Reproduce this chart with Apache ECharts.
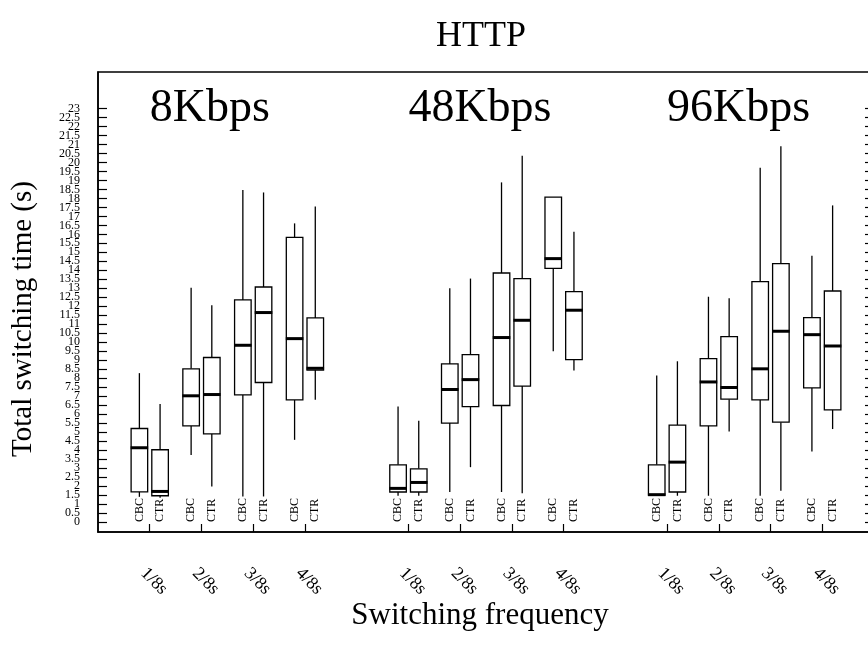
<!DOCTYPE html>
<html>
<head>
<meta charset="utf-8">
<script src="https://cdn.jsdelivr.net/npm/echarts@6/dist/echarts.min.js"></script>
<style>
html,body{margin:0;padding:0;background:#fff;}
#chart{width:868px;height:654px;}
</style>
</head>
<body>
<div id="chart"></div>
<script>
// ---- data ----
const categories = ['', '1/8s', '2/8s', '3/8s', '4/8s', '', '1/8s', '2/8s', '3/8s', '4/8s', '', '1/8s', '2/8s', '3/8s', '4/8s', ''];
const bitrates = ['8Kbps', '48Kbps', '96Kbps'];
const schemes = ['CBC', 'CTR'];
const yTicks = [0, 0.5, 1, 1.5, 2, 2.5, 3, 3.5, 4, 4.5, 5, 5.5, 6, 6.5, 7, 7.5, 8, 8.5, 9, 9.5, 10, 10.5, 11, 11.5, 12, 12.5, 13, 13.5, 14, 14.5, 15, 15.5, 16, 16.5, 17, 17.5, 18, 18.5, 19, 19.5, 20, 20.5, 21, 21.5, 22, 22.5, 23];
const yLabelsWhole = [0, 1, 2, 3, 4, 5, 6, 7, 8, 9, 10, 11, 12, 13, 14, 15, 16, 17, 18, 19, 20, 21, 22, 23];
const yLabelsHalf = [0.5, 1.5, 2.5, 3.5, 4.5, 5.5, 6.5, 7.5, 8.5, 9.5, 10.5, 11.5, 12.5, 13.5, 14.5, 15.5, 16.5, 17.5, 18.5, 19.5, 20.5, 21.5, 22.5];
// each entry: [min, q1, median, q3, max] for 1/8s, 2/8s, 3/8s, 4/8s
const cbc8 = [[1.4, 1.68, 4.13, 5.2, 8.28], [3.72, 5.35, 7.02, 8.52, 13.03], [1.42, 7.07, 9.83, 12.35, 18.46], [4.57, 6.79, 10.2, 15.83, 16.61]];
const ctr8 = [[1.35, 1.46, 1.7, 4.02, 6.57], [1.98, 4.9, 7.09, 9.15, 12.05], [1.42, 7.76, 11.65, 13.07, 18.33], [6.8, 8.45, 8.55, 11.35, 17.55]];
const cbc48 = [[1.46, 1.67, 1.87, 3.18, 6.42], [1.67, 5.5, 7.37, 8.79, 13.0], [1.67, 6.48, 10.26, 13.85, 18.89], [9.5, 14.11, 14.65, 18.07, 18.07]];
const ctr48 = [[1.46, 1.67, 2.2, 2.96, 5.63], [3.05, 6.42, 7.92, 9.31, 13.54], [1.6, 7.56, 11.22, 13.54, 20.37], [8.42, 9.03, 11.78, 12.81, 16.15]];
const cbc96 = [[1.45, 1.5, 1.52, 3.18, 8.15], [1.46, 5.35, 7.79, 9.09, 12.53], [1.46, 6.79, 8.52, 13.37, 19.7], [3.92, 7.46, 10.42, 11.37, 14.81]];
const ctr96 = [[1.46, 1.67, 3.33, 5.39, 8.94], [5.03, 6.83, 7.48, 10.31, 12.44], [1.74, 5.55, 10.61, 14.37, 20.9], [5.17, 6.24, 9.79, 12.85, 17.61]];
const panelY = 23;

// ---- build ----
const groups = [[cbc8, ctr8], [cbc48, ctr48], [cbc96, ctr96]];
const boxData = [];
const boxLabels = [];
groups.forEach(function (pair, g) {
  for (let k = 0; k < 4; k++) {
    pair.forEach(function (arr, s) {
      const v = arr[k];
      boxData.push([1 + g * 5 + k, s === 0 ? -1 : 1, v[0], v[1], v[2], v[3], v[4]]);
      boxLabels.push(schemes[s]);
    });
  }
});
const panelData = bitrates.map(function (b, g) { return [1 + g * 5, panelY]; });

const FONT = '"Liberation Serif", "Times New Roman", serif';
const chart = echarts.init(document.getElementById('chart'), null, {renderer: 'canvas'});

const yMin = -0.556, yMax = 25.03;
const tickStyle = {show: true, inside: true, length: 9, customValues: yTicks, lineStyle: {color: '#000', width: 1.2}};
const yLabelStyle = {margin: 18, fontSize: 12, fontFamily: FONT, color: '#000', hideOverlap: false};

chart.setOption({
  animation: false,
  backgroundColor: '#fff',
  graphic: [{
    type: 'text', x: 481, y: 37,
    style: {text: 'HTTP', textAlign: 'center', textVerticalAlign: 'middle', font: '36px ' + FONT, fill: '#000'}
  }],
  grid: {left: 98, top: 72, width: 776, height: 460, show: true, borderColor: '#000', borderWidth: 1.5, containLabel: false, outerBoundsMode: 'none'},
  xAxis: {
    type: 'category', data: categories, boundaryGap: false,
    axisLine: {show: true, onZero: false, lineStyle: {color: '#000', width: 1.5}},
    axisTick: {show: true, inside: true, length: 8, interval: function (i) { return categories[i] !== ''; }, lineStyle: {color: '#000', width: 1.2}},
    axisLabel: {interval: 0, rotate: -45, margin: 45, align: 'center', verticalAlign: 'middle', padding: [0, 0, 0, 12], fontSize: 18, fontFamily: FONT, color: '#000'},
    splitLine: {show: false},
    name: 'Switching frequency', nameLocation: 'middle', nameGap: 68, nameMoveOverlap: false,
    nameTextStyle: {fontSize: 31, fontFamily: FONT, color: '#000', padding: [0, 12, 0, 0]}
  },
  yAxis: [
    {
      type: 'value', min: yMin, max: yMax, position: 'left',
      axisLine: {show: true, onZero: false, lineStyle: {color: '#000', width: 1.5}},
      axisTick: tickStyle,
      axisLabel: Object.assign({customValues: yLabelsWhole}, yLabelStyle),
      splitLine: {show: false},
      name: 'Total switching time (s)', nameLocation: 'middle', nameGap: 60, nameMoveOverlap: false,
      nameTextStyle: {fontSize: 29, fontFamily: FONT, color: '#000', padding: [0, 34, 0, 0]}
    },
    {
      type: 'value', min: yMin, max: yMax, position: 'right',
      axisLine: {show: true, onZero: false, lineStyle: {color: '#000', width: 1.5}},
      axisTick: tickStyle,
      axisLabel: {show: false},
      splitLine: {show: false}
    },
    {
      type: 'value', min: yMin, max: yMax, position: 'left', offset: 0,
      axisLine: {show: false, onZero: false},
      axisTick: {show: false},
      axisLabel: Object.assign({customValues: yLabelsHalf}, yLabelStyle),
      splitLine: {show: false}
    }
  ],
  series: [
    {
      type: 'custom',
      data: boxData,
      encode: {x: 0, y: [2, 3, 4, 5, 6]},
      clip: false,
      renderItem: function (params, api) {
        const ci = api.value(0), off = api.value(1);
        const mn = api.value(2), q1 = api.value(3), md = api.value(4), q3 = api.value(5), mx = api.value(6);
        const band = api.size([1, 0])[0];
        const c = api.coord([ci, 0]);
        const x = c[0] + off * 0.2 * band;
        const hw = 0.16 * band;
        const y = function (v) { return api.coord([ci, v])[1]; };
        const ls = {stroke: '#000', lineWidth: 1.3};
        return {
          type: 'group',
          children: [
            {type: 'line', shape: {x1: x, y1: y(mx), x2: x, y2: y(q3)}, style: ls},
            {type: 'line', shape: {x1: x, y1: y(q1), x2: x, y2: y(mn)}, style: ls},
            {type: 'rect', shape: {x: x - hw, y: y(q3), width: 2 * hw, height: y(q1) - y(q3)}, style: {fill: '#fff', stroke: '#000', lineWidth: 1.3}},
            {type: 'line', shape: {x1: x - hw - 0.5, y1: y(md), x2: x + hw + 0.5, y2: y(md)}, style: {stroke: '#000', lineWidth: 3}},
            {type: 'text', x: x, y: y(0), rotation: Math.PI / 2,
              style: {text: boxLabels[params.dataIndex], textAlign: 'left', textVerticalAlign: 'middle', font: '12px ' + FONT, fill: '#000'}}
          ]
        };
      }
    },
    {
      type: 'custom',
      data: panelData,
      encode: {x: 0, y: 1},
      clip: false,
      renderItem: function (params, api) {
        const p = api.coord([api.value(0), api.value(1)]);
        return {type: 'text', x: p[0], y: p[1],
          style: {text: bitrates[params.dataIndex], textAlign: 'left', textVerticalAlign: 'middle', font: '46px ' + FONT, fill: '#000'}};
      }
    }
  ]
});
</script>
</body>
</html>
